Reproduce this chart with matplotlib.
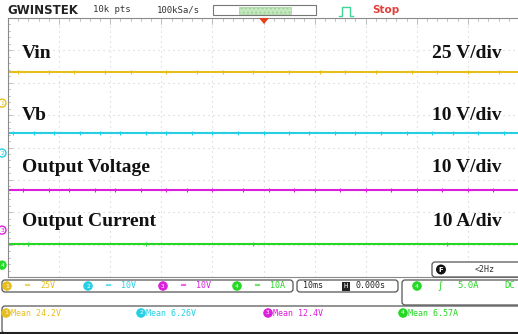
import matplotlib.pyplot as plt
from matplotlib.patches import FancyBboxPatch, Rectangle, Polygon, Circle

# channel settings from the scope readout
names = ["Vin", "Vb", "Output Voltage", "Output Current"]
scales = ["25 V/div", "10 V/div", "10 V/div", "10 A/div"]
volts_per_div = [25, 10, 10, 10]
means = [24.2, 6.26, 12.4, 6.57]
mean_labels = ["Mean 24.2V", "Mean 6.26V", "Mean 12.4V", "Mean 6.57A"]
coupling = ["25V", "10V", "10V", "10A"]
ground_div = [1.37, -0.17, -2.55, -3.63]   # ground marker positions, in divisions
colors = ["#e6bf1e", "#26d0e4", "#dc1fdc", "#25d825"]

# glitch times (ms) seen on each trace
spikes = [
    [2, 8, 13, 19, 24, 31, 37, 42, 48, 55, 61, 66, 72, 79, 84, 90, 96],
    [1, 5, 9, 14, 18, 22, 27, 31, 36, 40, 45, 50, 55, 59, 64, 68, 73, 78, 83, 87, 92, 97],
    [3, 8, 12, 17, 21, 26, 31, 35, 40, 46, 51, 56, 60, 65, 70, 75, 80, 85, 90, 95],
    [4, 27, 48, 86],
]

W, H = 518, 334
fig = plt.figure(figsize=(W / 100, H / 100), dpi=100)
fig.patch.set_facecolor("white")

# graticule: 10 x 8 divisions, 10 ms/div
ax = fig.add_axes([8 / W, 1 - 277 / H, 511 / W, 259 / H])
ax.set_xlim(0, 100)
ax.set_ylim(-4, 4)
ax.set_xticks(range(0, 101, 10))
ax.set_yticks(range(-4, 5))
ax.grid(True, color="#cfcfcf", linestyle=(0, (1, 3.5)), linewidth=0.8)
ax.tick_params(length=0, labelbottom=False, labelleft=False)
ax.spines["right"].set_visible(False)
for side in ["top", "left", "bottom"]:
    ax.spines[side].set_color("#8a8a8a")
    ax.spines[side].set_linewidth(0.8)

# ruler ticks along the top and left edges
for i in range(51):
    x = i * 2
    ax.plot([x, x], [4, 4 - (0.1 if i % 5 else 0.18)], color="#a8a8a8", lw=0.5)
for i in range(41):
    y = -4 + i * 0.2
    ax.plot([0, 0.4 if i % 5 else 0.7], [y, y], color="#a8a8a8", lw=0.5)

t = [0, 100]
for k in range(4):
    level = ground_div[k] + means[k] / volts_per_div[k]
    ax.plot(t, [level, level], color=colors[k], lw=1.5, solid_capstyle="butt")
    ax.plot(spikes[k], [level] * len(spikes[k]), linestyle="none", marker="|",
            ms=3.5, mew=0.8, color=colors[k])

# overlay in pixel coordinates for the screen furniture
ov = fig.add_axes([0, 0, 1, 1], zorder=5)
ov.set_xlim(0, W)
ov.set_ylim(H, 0)
ov.axis("off")
ov.patch.set_alpha(0)

mono = "DejaVu Sans Mono"
serif = "Liberation Serif"

# trace labels
label_y = [53, 115, 168, 222]
for k in range(4):
    ov.text(22, label_y[k], names[k], fontfamily=serif, fontweight="bold",
            fontsize=14, va="center", ha="left", color="#111111")
    ov.text(502, label_y[k], scales[k], fontfamily=serif, fontweight="bold",
            fontsize=14, va="center", ha="right", color="#111111")

# ground markers on the left edge
for k in range(4):
    gy = 147.5 - ground_div[k] * 32.4
    ov.add_patch(Circle((2, gy), 4, fc="white" if k < 3 else colors[k],
                        ec=colors[k], lw=1.0, clip_on=False))
    ov.text(2.5, gy, str(k + 1), fontsize=4.5, ha="center", va="center",
            color=colors[k] if k < 3 else "white", fontfamily=mono)

# top status bar
ov.text(7, 10, "GWINSTEK", fontsize=8.5, fontweight="bold", family="DejaVu Sans",
        va="center", color="#222222")
ov.text(93, 10, "10k pts", fontsize=6.5, family=mono, va="center", color="#333333")
ov.text(157, 10, "100kSa/s", fontsize=6.5, family=mono, va="center", color="#333333")
ov.add_patch(Rectangle((213, 5), 103, 10, fc="white", ec="#777777", lw=0.8))
ov.add_patch(Rectangle((239, 6.5), 52, 7, fc="#c6e8c0", ec="#9fd29a", lw=0.5,
                       hatch="...."))
ov.add_patch(Polygon([[259, 18], [269, 18], [264, 24]], fc="#e8401c", ec="none"))
ov.plot([339, 342, 342, 350, 350, 353], [16, 16, 7, 7, 16, 16], color="#3fd69a", lw=1.0)
ov.text(372, 10, "Stop", fontsize=7.5, fontweight="bold", family="DejaVu Sans",
        va="center", color="#e0403c")

# bottom readout boxes
def box(x0, y0, x1, y1):
    ov.add_patch(FancyBboxPatch((x0, y0), x1 - x0, y1 - y0,
                                boxstyle="round,pad=0,rounding_size=3",
                                fc="white", ec="#555555", lw=0.9, clip_on=False))

def badge(x, y, num, color, filled=True):
    ov.add_patch(Circle((x, y), 4.2, fc=color if filled else "white", ec=color, lw=0.8))
    ov.text(x, y, num, fontsize=4.5, ha="center", va="center",
            color="white" if filled else color, family=mono)

box(2, 280, 293, 292)
ch_x = [7, 88, 163, 237]
for k in range(4):
    badge(ch_x[k], 286, str(k + 1), colors[k])
    ov.text(ch_x[k] + 17, 286, "\u2550", fontsize=6, color=colors[k], va="center", family=mono)
    ov.text(ch_x[k] + 33, 286, coupling[k], fontsize=6, color=colors[k], va="center", family=mono)

box(297, 280, 398, 292)
ov.text(303, 286, "10ms", fontsize=6, family=mono, va="center", color="#222222")
ov.add_patch(Rectangle((342, 281.5), 8, 9, fc="#222222", ec="none"))
ov.text(346, 286, "H", fontsize=5, family=mono, va="center", ha="center", color="white")
ov.text(355, 286, "0.000s", fontsize=6, family=mono, va="center", color="#222222")

box(432, 262, 530, 277)
ov.add_patch(Circle((441, 269.5), 5, fc="#111111", ec="none"))
ov.text(441, 269.5, "F", fontsize=5, fontweight="bold", ha="center", va="center", color="white")
ov.text(475, 269.5, "<2Hz", fontsize=6, family=mono, va="center", color="#333333")

box(402, 280, 530, 305)
badge(417, 286, "4", colors[3])
ov.text(437, 286, "\u222b", fontsize=7, color=colors[3], va="center")
ov.text(457, 286, "5.0A", fontsize=6.5, family=mono, va="center", color=colors[3])
ov.text(504, 286, "DC", fontsize=6.5, family=mono, va="center", color=colors[3])

box(2, 306, 530, 333)
ov.plot([0, W], [333, 333], color="#222222", lw=1.5)
mean_x = [2, 137, 264, 399]
for k in range(4):
    badge(mean_x[k] + 4, 313, str(k + 1), colors[k])
    ov.text(mean_x[k] + 9, 313, mean_labels[k], fontsize=6, family=mono,
            va="center", color=colors[k])

fig.savefig("out.png", dpi=100)
